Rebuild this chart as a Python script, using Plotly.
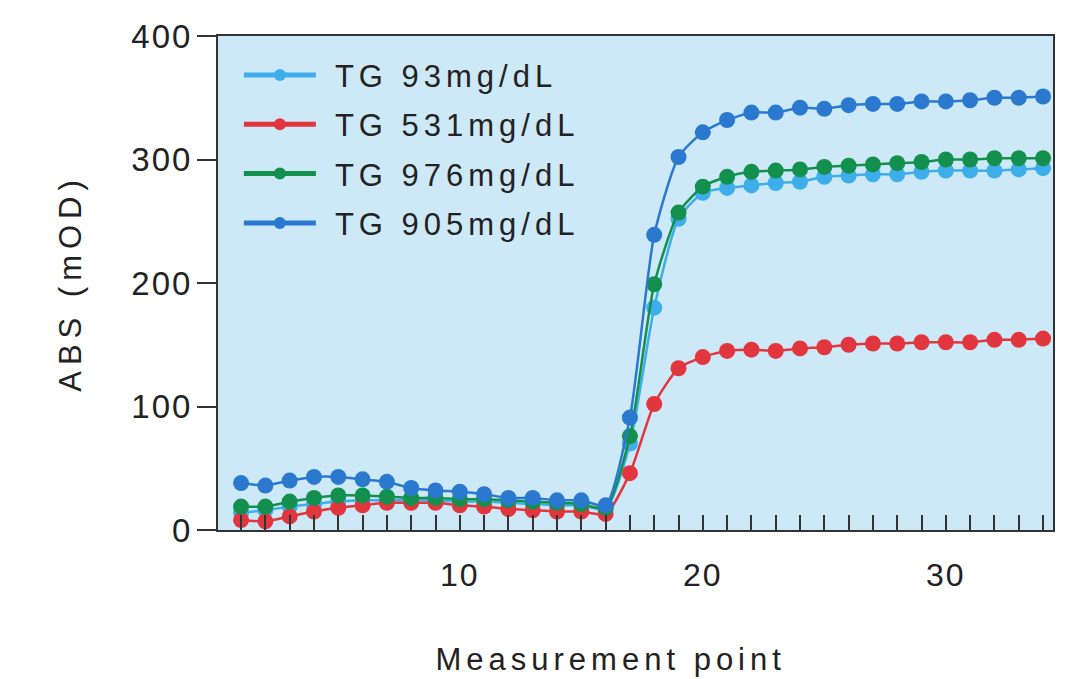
import plotly.graph_objects as go

# ---------------- data ----------------
points = list(range(1, 35))

tg93 = [14, 16, 19, 21, 23, 24, 24, 24, 24, 23, 23, 22, 21, 20, 20, 17,
        70, 180, 252, 273, 277, 279, 281, 282, 286, 287, 288, 288, 290, 291, 291, 291, 292, 293]
tg531 = [8, 7, 11, 15, 18, 20, 22, 22, 22, 20, 19, 17, 16, 15, 15, 13,
         46, 102, 131, 140, 145, 146, 145, 147, 148, 150, 151, 151, 152, 152, 152, 154, 154, 155]
tg976 = [19, 19, 23, 26, 28, 28, 27, 26, 26, 25, 25, 24, 23, 22, 21, 18,
         76, 199, 257, 278, 286, 290, 291, 292, 294, 295, 296, 297, 298, 300, 300, 301, 301, 301]
tg905 = [38, 36, 40, 43, 43, 41, 39, 34, 32, 31, 29, 26, 26, 24, 24, 20,
         91, 239, 302, 322, 332, 338, 338, 342, 341, 344, 345, 345, 347, 347, 348, 350, 350, 351]

series_names = ["TG 93mg/dL", "TG 531mg/dL", "TG 976mg/dL", "TG 905mg/dL"]
series_values = [tg93, tg531, tg976, tg905]
series_colors = ["#3eaeea", "#e2363f", "#14904e", "#2a79cf"]

x_tick_vals = [10, 20, 30]
y_tick_vals = [0, 100, 200, 300, 400]

x_title = "Measurement point"
y_title = "ABS (mOD)"

FONT = "Liberation Sans, Arial, Helvetica, sans-serif"
INK = "#222222"

fig = go.Figure()
for i, (name, vals, col) in enumerate(zip(series_names, series_values, series_colors)):
    fig.add_trace(go.Scatter(
        x=points, y=vals, name=name, mode="lines+markers",
        line=dict(color=col, width=2.5, shape="spline", smoothing=0.6),
        marker=dict(color=col, size=16),
        legendgroup=f"g{i}",
    ))

fig.update_layout(
    width=1074, height=679,
    margin=dict(l=218, r=21, t=36, b=149),
    paper_bgcolor="white",
    plot_bgcolor="#cde8f6",
    font=dict(family=FONT, color=INK),
    showlegend=True,
    legend=dict(
        x=0.025, y=0.975, xanchor="left", yanchor="top",
        bgcolor="rgba(0,0,0,0)",
        font=dict(family=FONT, size=31, color=INK),
        itemsizing="constant",
        itemwidth=72,
        traceorder="grouped",
        tracegroupgap=6,
    ),
    xaxis=dict(
        range=[0.05, 34.41],
        tickvals=x_tick_vals,
        ticks="inside", ticklen=15, tickwidth=2, tickcolor="#333333",
        minor=dict(dtick=1, tick0=0, ticks="inside", ticklen=15, tickwidth=2, tickcolor="#333333"),
        showgrid=False, zeroline=False,
        showline=True, linecolor="#333333", linewidth=2, mirror=True,
        tickfont=dict(family=FONT, size=32, color=INK),
        ticklabelstandoff=16,
    ),
    yaxis=dict(
        range=[0, 400],
        tickvals=y_tick_vals,
        ticks="outside", ticklen=19, tickwidth=2, tickcolor="#333333",
        showgrid=False, zeroline=False,
        showline=True, linecolor="#333333", linewidth=2, mirror=True,
        tickfont=dict(family=FONT, size=33, color=INK),
        ticklabelstandoff=-2,
        title=dict(text=y_title, font=dict(family=FONT, size=31, color=INK), standoff=46),
    ),
    annotations=[dict(
        text=x_title, xref="paper", yref="paper", x=0.4707, y=-0.263,
        xanchor="center", yanchor="middle", showarrow=False,
        font=dict(family=FONT, size=31, color=INK),
    )],
)

post = """
var s=document.createElement('style');
s.innerHTML='body{margin:0 !important}'
 + ' .legend .scrollbox{clip-path:none !important}'
 + ' .legendtext{letter-spacing:5px; transform:translate(14px,0)}'
 + ' .ytitle{letter-spacing:6px}'
 + ' .annotation-text{letter-spacing:5px}'
 + ' .xtick text,.ytick text{letter-spacing:2px}';
document.head.appendChild(s);
"""

fig.write_html("out.html", post_script=post, config={"displayModeBar": False})
